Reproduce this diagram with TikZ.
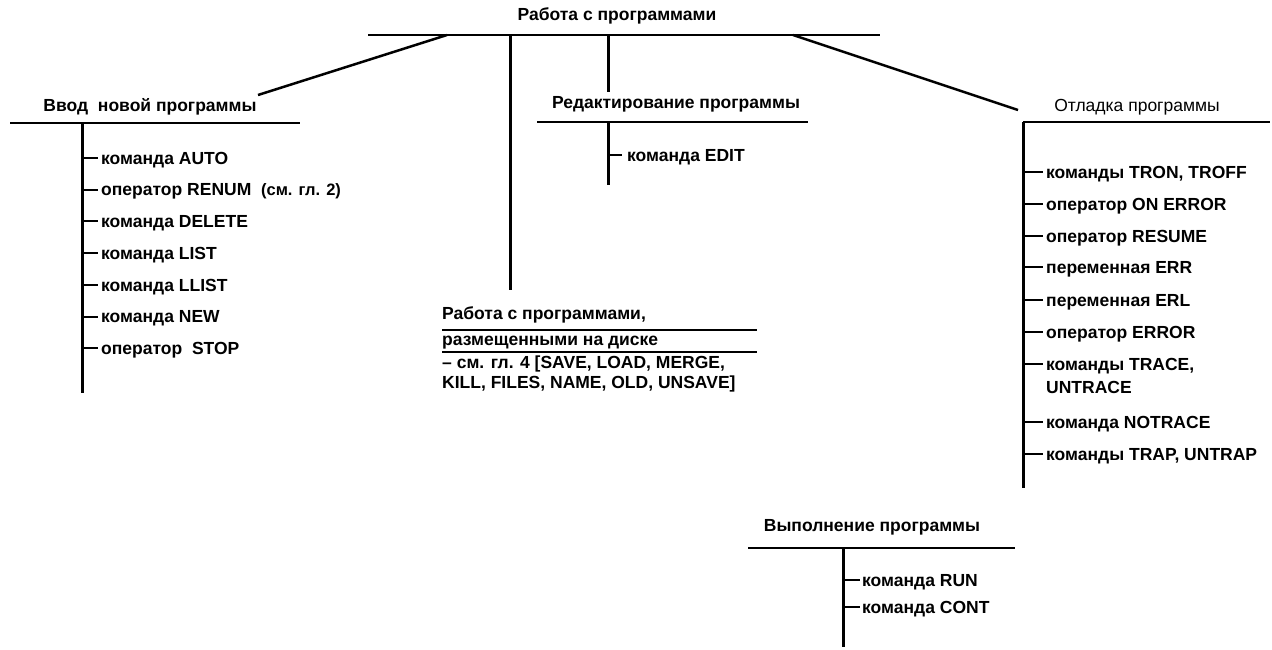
\documentclass[tikz,border=0pt]{standalone}
\usepackage{fontspec}
\setmainfont{Liberation Sans}
\begin{document}
\begin{tikzpicture}[x=1pt,y=-1pt,
 lbl/.style={anchor=west,inner sep=0pt,font=\bfseries\fontsize{17.5}{20}\selectfont,text height=12.5pt,text depth=0pt},
 ttl/.style={inner sep=0pt,font=\bfseries\fontsize{17.5}{20}\selectfont},
 ttlr/.style={inner sep=0pt,font=\fontsize{17.5}{20}\selectfont},
 rule/.style={line width=2.5pt},
 thinrule/.style={line width=2pt},
 stem/.style={line width=3pt},
 tick/.style={line width=2pt}]
\useasboundingbox (0,0) rectangle (1272,649);

% root
\node[ttl] (root) at (617,16) {Работа с программами};
\coordinate (rL) at (368,35);
\coordinate (rR) at (880,35);
\draw[rule] (rL) -- (rR);
\coordinate (rA) at (447,35);
\coordinate (rB) at (510,35);
\coordinate (rC) at (608,35);
\coordinate (rD) at (793,35);

% left block
\node[ttl] (aT) at (150,107) {Ввод\ \ новой программы};
\coordinate (aL) at (10,123);
\coordinate (aR) at (300,123);
\coordinate (aEnd) at (258,95);
\draw[rule] (aL) -- (aR);
\draw[rule] (rA) -- (aEnd);
\coordinate (aS) at (82,123);
\coordinate (aB) at (82,393);
\draw[stem] (aS) -- (aB);
\foreach \t [count=\i] in {команда AUTO,оператор RENUM\ \ {\fontsize{16.5}{18}\selectfont(см. гл. 2)},команда DELETE,команда LIST,команда LLIST,команда NEW,оператор\ \ STOP}{
  \node[lbl] (a\i) at (101,{158+31.7*(\i-1)}) {\t};
  \draw[tick] (a\i.west -| aS) -- ([xshift=-3pt]a\i.west);
}

% edit block
\coordinate (eTop) at (608,92);
\draw[stem] (rC) -- (eTop);
\node[ttl] (eT) at (676,104) {Редактирование программы};
\coordinate (eL) at (537,122);
\coordinate (eR) at (808,122);
\draw[rule] (eL) -- (eR);
\coordinate (eS) at (608,122);
\coordinate (eB) at (608,185);
\draw[stem] (eS) -- (eB);
\node[lbl] (e1) at (627,155) {команда EDIT};
\draw[tick] (e1.west -| eS) -- ([xshift=-5pt]e1.west);

% disk block
\coordinate (dEnd) at (510,290);
\draw[stem] (rB) -- (dEnd);
\node[lbl] (d1) at (442,313) {Работа с программами,};
\coordinate (d1L) at (442,330);
\coordinate (d1R) at (757,330);
\draw[thinrule] (d1L) -- (d1R);
\node[lbl] (d2) at (442,339) {размещенными на диске};
\coordinate (d2L) at (442,352);
\coordinate (d2R) at (757,352);
\draw[thinrule] (d2L) -- (d2R);
\node[lbl] (d3) at (442,362) {– см. гл. 4 [SAVE, LOAD, MERGE,};
\node[lbl] (d4) at (442,382) {KILL, FILES, NAME, OLD, UNSAVE]};

% debug block
\coordinate (gEnd) at (1018,110);
\draw[rule] (rD) -- (gEnd);
\node[ttlr] (gT) at (1137,107) {Отладка программы};
\coordinate (gL) at (1023,122);
\coordinate (gR) at (1270,122);
\draw[rule] (gL) -- (gR);
\coordinate (gB) at (1023,488);
\draw[stem] (gL) -- (gB);
\foreach \t/\yy [count=\i] in {{команды TRON, TROFF}/172,оператор ON ERROR/204,оператор RESUME/236,переменная ERR/267,переменная ERL/300,оператор ERROR/332,{команды TRACE,}/364,команда NOTRACE/422,{команды TRAP, UNTRAP}/454}{
  \node[lbl] (g\i) at (1046,\yy) {\t};
  \draw[tick] (g\i.west -| gL) -- ([xshift=-3pt]g\i.west);
}
\node[lbl] (g7b) at (1046,387) {UNTRACE};

% run block
\node[ttl] (xT) at (872,527) {Выполнение программы};
\coordinate (xL) at (748,548);
\coordinate (xR) at (1015,548);
\draw[rule] (xL) -- (xR);
\coordinate (xS) at (843,548);
\coordinate (xB) at (843,647);
\draw[stem] (xS) -- (xB);
\node[lbl] (x1) at (862,580) {команда RUN};
\node[lbl] (x2) at (862,607) {команда CONT};
\draw[tick] (x1.west -| xS) -- ([xshift=-2pt]x1.west);
\draw[tick] (x2.west -| xS) -- ([xshift=-2pt]x2.west);
\end{tikzpicture}
\end{document}
